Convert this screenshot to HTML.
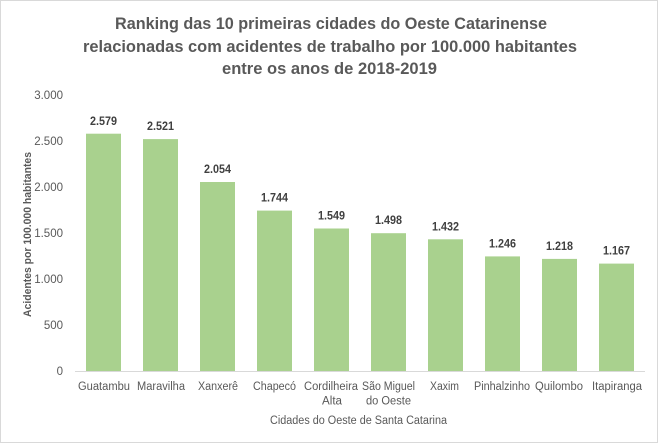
<!DOCTYPE html>
<html><head><meta charset="utf-8"><style>
html,body{margin:0;padding:0;background:#fff;}
svg{display:block;}
text{font-family:"Liberation Sans",Arial,sans-serif;}
</style></head><body>
<svg width="659" height="444" viewBox="0 0 659 444" xmlns="http://www.w3.org/2000/svg">
<rect x="0" y="0" width="659" height="444" fill="#fff"/>
<rect x="0.5" y="0.5" width="657" height="442" fill="none" stroke="#d9d9d9" stroke-width="1"/>
<g fill="#595959" font-weight="bold" font-size="16.5" text-anchor="middle">
<text x="331" y="29" textLength="432" lengthAdjust="spacingAndGlyphs">Ranking das 10 primeiras cidades do Oeste Catarinense</text>
<text x="330" y="52" textLength="494" lengthAdjust="spacingAndGlyphs">relacionadas com acidentes de trabalho por 100.000 habitantes</text>
<text x="329.5" y="74" textLength="215" lengthAdjust="spacingAndGlyphs">entre os anos de 2018-2019</text>
</g>
<g fill="#595959" font-size="11.5" text-anchor="end">
<text x="63" y="375">0</text>
<text x="63" y="329">500</text>
<text x="63" y="283">1.000</text>
<text x="63" y="237">1.500</text>
<text x="63" y="191">2.000</text>
<text x="63" y="145">2.500</text>
<text x="63" y="99">3.000</text>
</g>
<text transform="translate(31,234.5) rotate(-90)" fill="#595959" font-weight="bold" font-size="11" text-anchor="middle" textLength="165" lengthAdjust="spacingAndGlyphs">Acidentes  por 100.000 habitantes</text>
<g fill="#a9d18e">
<rect x="86" y="133.7" width="35" height="237.3"/>
<rect x="143" y="139.1" width="35" height="231.9"/>
<rect x="200" y="182.0" width="35" height="189.0"/>
<rect x="257" y="210.6" width="35" height="160.4"/>
<rect x="314" y="228.5" width="35" height="142.5"/>
<rect x="371" y="233.2" width="35" height="137.8"/>
<rect x="428" y="239.3" width="35" height="131.7"/>
<rect x="485" y="256.4" width="35" height="114.6"/>
<rect x="542" y="258.9" width="35" height="112.1"/>
<rect x="599" y="263.6" width="35" height="107.4"/>
</g>
<line x1="75" y1="371.5" x2="645" y2="371.5" stroke="#d9d9d9" stroke-width="1"/>
<g fill="#404040" font-weight="bold" font-size="11.5" text-anchor="middle">
<text x="103.5" y="125" textLength="27" lengthAdjust="spacingAndGlyphs">2.579</text>
<text x="160.5" y="130" textLength="27" lengthAdjust="spacingAndGlyphs">2.521</text>
<text x="217.5" y="173" textLength="27" lengthAdjust="spacingAndGlyphs">2.054</text>
<text x="274.5" y="201.5" textLength="27" lengthAdjust="spacingAndGlyphs">1.744</text>
<text x="331.5" y="219.5" textLength="27" lengthAdjust="spacingAndGlyphs">1.549</text>
<text x="388.5" y="224" textLength="27" lengthAdjust="spacingAndGlyphs">1.498</text>
<text x="445.5" y="230.5" textLength="27" lengthAdjust="spacingAndGlyphs">1.432</text>
<text x="502.5" y="247.5" textLength="27" lengthAdjust="spacingAndGlyphs">1.246</text>
<text x="559.5" y="250" textLength="27" lengthAdjust="spacingAndGlyphs">1.218</text>
<text x="616.5" y="254.5" textLength="27" lengthAdjust="spacingAndGlyphs">1.167</text>
</g>
<g fill="#595959" font-size="11.5" text-anchor="middle">
<text x="104" y="390" textLength="52" lengthAdjust="spacingAndGlyphs">Guatambu</text>
<text x="161" y="390" textLength="48" lengthAdjust="spacingAndGlyphs">Maravilha</text>
<text x="218" y="390" textLength="40" lengthAdjust="spacingAndGlyphs">Xanxerê</text>
<text x="274.5" y="390" textLength="43" lengthAdjust="spacingAndGlyphs">Chapecó</text>
<text x="331" y="390" textLength="54" lengthAdjust="spacingAndGlyphs">Cordilheira</text>
<text x="332" y="404.5" textLength="20" lengthAdjust="spacingAndGlyphs">Alta</text>
<text x="388.5" y="390" textLength="53" lengthAdjust="spacingAndGlyphs">São Miguel</text>
<text x="388.5" y="404.5" textLength="45" lengthAdjust="spacingAndGlyphs">do Oeste</text>
<text x="444.5" y="390" textLength="29" lengthAdjust="spacingAndGlyphs">Xaxim</text>
<text x="502" y="390" textLength="56" lengthAdjust="spacingAndGlyphs">Pinhalzinho</text>
<text x="559" y="390" textLength="48" lengthAdjust="spacingAndGlyphs">Quilombo</text>
<text x="617" y="390" textLength="50" lengthAdjust="spacingAndGlyphs">Itapiranga</text>
<text x="358.5" y="424" textLength="177" lengthAdjust="spacingAndGlyphs">Cidades do Oeste de Santa Catarina</text>
</g>
</svg>
</body></html>
